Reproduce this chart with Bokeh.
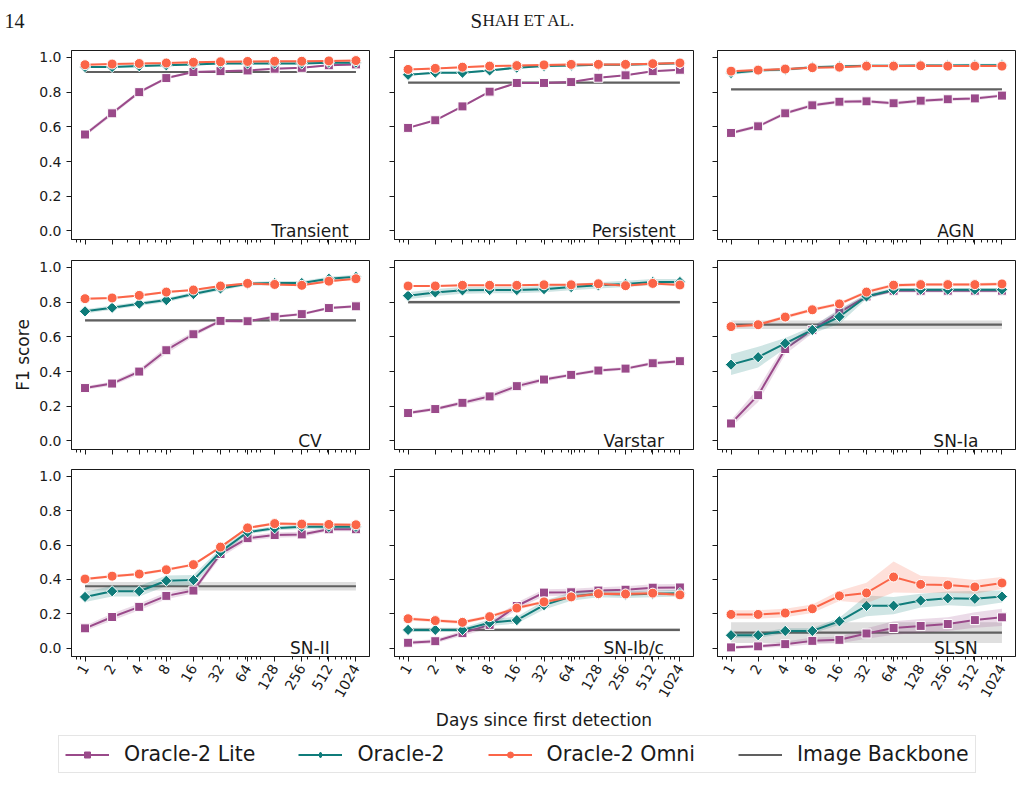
import math

from bokeh.embed import file_html
from bokeh.layouts import column, row
from bokeh.models import FixedTicker, Label, Legend, LegendItem, Range1d
from bokeh.plotting import figure
from bokeh.resources import INLINE

# ---------------------------------------------------------------- data
DAYS = [1, 2, 4, 8, 16, 32, 64, 128, 256, 512, 1024]
CLASSES = ["Transient", "Persistent", "AGN",
           "CV", "Varstar", "SN-Ia",
           "SN-II", "SN-Ib/c", "SLSN"]

# mean F1 score per class (rows follow CLASSES, columns follow DAYS)
LITE_F1 = [
    [0.556, 0.678, 0.800, 0.881, 0.916, 0.921, 0.925, 0.935, 0.940, 0.955, 0.960],
    [0.594, 0.638, 0.718, 0.803, 0.853, 0.853, 0.858, 0.883, 0.897, 0.921, 0.929],
    [0.565, 0.603, 0.678, 0.724, 0.745, 0.747, 0.736, 0.751, 0.759, 0.764, 0.780],
    [0.305, 0.331, 0.400, 0.523, 0.615, 0.692, 0.690, 0.716, 0.731, 0.766, 0.776],
    [0.161, 0.184, 0.220, 0.257, 0.316, 0.354, 0.381, 0.406, 0.417, 0.448, 0.460],
    [0.101, 0.264, 0.530, 0.640, 0.741, 0.833, 0.866, 0.866, 0.866, 0.866, 0.866],
    [0.115, 0.181, 0.240, 0.304, 0.335, 0.548, 0.640, 0.658, 0.662, 0.692, 0.692],
    [0.031, 0.040, 0.087, 0.135, 0.245, 0.323, 0.325, 0.335, 0.340, 0.352, 0.353],
    [0.004, 0.010, 0.023, 0.042, 0.048, 0.085, 0.117, 0.129, 0.140, 0.163, 0.179],
]
ORACLE_F1 = [
    [0.945, 0.945, 0.950, 0.955, 0.960, 0.965, 0.965, 0.965, 0.965, 0.970, 0.970],
    [0.900, 0.912, 0.912, 0.925, 0.941, 0.950, 0.953, 0.958, 0.958, 0.962, 0.966],
    [0.910, 0.925, 0.930, 0.944, 0.948, 0.952, 0.952, 0.954, 0.954, 0.955, 0.955],
    [0.747, 0.768, 0.791, 0.812, 0.847, 0.879, 0.906, 0.910, 0.910, 0.935, 0.946],
    [0.837, 0.856, 0.868, 0.870, 0.870, 0.875, 0.887, 0.897, 0.905, 0.916, 0.916],
    [0.440, 0.483, 0.563, 0.640, 0.716, 0.833, 0.871, 0.872, 0.872, 0.872, 0.872],
    [0.298, 0.331, 0.331, 0.392, 0.396, 0.561, 0.675, 0.698, 0.706, 0.706, 0.706],
    [0.106, 0.106, 0.106, 0.148, 0.163, 0.250, 0.300, 0.316, 0.312, 0.316, 0.320],
    [0.075, 0.075, 0.100, 0.100, 0.156, 0.246, 0.247, 0.277, 0.290, 0.287, 0.300],
]
OMNI_F1 = [
    [0.958, 0.962, 0.965, 0.968, 0.972, 0.975, 0.977, 0.978, 0.978, 0.980, 0.982],
    [0.931, 0.937, 0.944, 0.950, 0.953, 0.957, 0.960, 0.960, 0.960, 0.964, 0.968],
    [0.921, 0.927, 0.933, 0.941, 0.944, 0.950, 0.950, 0.952, 0.950, 0.950, 0.950],
    [0.820, 0.824, 0.839, 0.858, 0.870, 0.893, 0.908, 0.902, 0.897, 0.921, 0.935],
    [0.893, 0.893, 0.897, 0.897, 0.897, 0.900, 0.900, 0.906, 0.895, 0.908, 0.899],
    [0.659, 0.670, 0.714, 0.756, 0.790, 0.858, 0.898, 0.901, 0.901, 0.901, 0.905],
    [0.402, 0.419, 0.431, 0.456, 0.486, 0.588, 0.700, 0.725, 0.722, 0.720, 0.718],
    [0.171, 0.160, 0.150, 0.183, 0.233, 0.269, 0.298, 0.317, 0.315, 0.320, 0.310],
    [0.196, 0.196, 0.204, 0.229, 0.304, 0.321, 0.414, 0.371, 0.367, 0.356, 0.379],
]

# half-width of the confidence band around each mean
LITE_ERR = [
    [0.012, 0.012, 0.010, 0.008, 0.006, 0.005, 0.005, 0.005, 0.005, 0.005, 0.005],
    [0.006, 0.006, 0.006, 0.006, 0.005, 0.005, 0.005, 0.005, 0.005, 0.005, 0.005],
    [0.010, 0.010, 0.010, 0.010, 0.010, 0.010, 0.010, 0.010, 0.010, 0.010, 0.010],
    [0.010, 0.012, 0.015, 0.020, 0.015, 0.010, 0.008, 0.008, 0.008, 0.008, 0.008],
    [0.010, 0.010, 0.012, 0.015, 0.015, 0.012, 0.010, 0.010, 0.010, 0.010, 0.010],
    [0.020, 0.040, 0.030, 0.020, 0.020, 0.012, 0.010, 0.010, 0.010, 0.010, 0.010],
    [0.015, 0.020, 0.020, 0.020, 0.015, 0.020, 0.015, 0.015, 0.015, 0.012, 0.012],
    [0.012, 0.012, 0.015, 0.020, 0.020, 0.020, 0.020, 0.020, 0.020, 0.020, 0.020],
    [0.010, 0.010, 0.015, 0.020, 0.020, 0.030, 0.040, 0.040, 0.040, 0.045, 0.050],
]
ORACLE_ERR = [
    [0.006, 0.006, 0.006, 0.006, 0.006, 0.006, 0.006, 0.006, 0.006, 0.006, 0.006],
    [0.006, 0.006, 0.006, 0.006, 0.006, 0.006, 0.006, 0.006, 0.006, 0.006, 0.006],
    [0.010, 0.010, 0.008, 0.008, 0.008, 0.008, 0.008, 0.008, 0.008, 0.008, 0.008],
    [0.012, 0.012, 0.012, 0.012, 0.012, 0.012, 0.010, 0.012, 0.012, 0.012, 0.012],
    [0.020, 0.020, 0.020, 0.018, 0.018, 0.018, 0.018, 0.018, 0.018, 0.018, 0.018],
    [0.060, 0.060, 0.030, 0.020, 0.040, 0.015, 0.010, 0.010, 0.010, 0.010, 0.010],
    [0.030, 0.030, 0.030, 0.030, 0.030, 0.020, 0.012, 0.012, 0.012, 0.012, 0.012],
    [0.012, 0.012, 0.012, 0.020, 0.020, 0.025, 0.025, 0.020, 0.020, 0.020, 0.020],
    [0.015, 0.015, 0.015, 0.015, 0.020, 0.060, 0.050, 0.040, 0.040, 0.045, 0.035],
]
OMNI_ERR = [
    [0.005, 0.005, 0.005, 0.005, 0.005, 0.005, 0.005, 0.005, 0.005, 0.005, 0.005],
    [0.005, 0.005, 0.005, 0.005, 0.005, 0.005, 0.005, 0.005, 0.005, 0.005, 0.005],
    [0.005, 0.005, 0.005, 0.005, 0.005, 0.005, 0.005, 0.005, 0.005, 0.005, 0.005],
    [0.006, 0.006, 0.006, 0.006, 0.006, 0.006, 0.006, 0.006, 0.006, 0.006, 0.006],
    [0.005, 0.005, 0.005, 0.005, 0.005, 0.005, 0.005, 0.005, 0.005, 0.005, 0.005],
    [0.010, 0.010, 0.010, 0.010, 0.010, 0.010, 0.010, 0.010, 0.010, 0.010, 0.010],
    [0.008, 0.008, 0.008, 0.008, 0.008, 0.008, 0.008, 0.008, 0.008, 0.008, 0.008],
    [0.010, 0.010, 0.010, 0.010, 0.010, 0.010, 0.010, 0.010, 0.010, 0.010, 0.010],
    [0.025, 0.025, 0.025, 0.025, 0.030, 0.060, 0.090, 0.050, 0.045, 0.040, 0.035],
]

# image-only baseline: one score per class, constant in time
BACKBONE_F1 = [0.916, 0.855, 0.816, 0.695, 0.800, 0.670, 0.360, 0.106, 0.090]
BACKBONE_ERR = [0.004, 0.003, 0.004, 0.006, 0.010, 0.025, 0.025, 0.010, 0.060]

Y_TICKS = [0.0, 0.2, 0.4, 0.6, 0.8, 1.0]

# ---------------------------------------------------------------- style
FONT = "DejaVu Sans"
INK = "#1a1a1a"
C_LITE = "#9a4a8a"
C_ORACLE = "#0f7c7a"
C_OMNI = "#fb6548"
C_BACK = "#606060"

# name, means, band half-widths, colour, marker, marker size, marker angle,
# marker used for the legend key
SERIES = [
    ("Oracle-2 Lite", LITE_F1, LITE_ERR, C_LITE, "square", 9, 0.0, "square"),
    ("Oracle-2", ORACLE_F1, ORACLE_ERR, C_ORACLE, "square", 8, math.pi / 4, "diamond"),
    ("Oracle-2 Omni", OMNI_F1, OMNI_ERR, C_OMNI, "circle", 10, 0.0, "circle"),
]

X0, X1 = 2 ** -0.5, 2 ** 10.5
Y0, Y1 = -0.049, 1.04

# figure geometry per column / row
COL_W = [381, 323, 319]
COL_ML = [71, 13, 13]
COL_MR = [12, 11, 8]
HEAD_H = 40
ROW_H = [209, 210, 274]
ROW_MT = [10, 11, 10]
ROW_MB = [10, 10, 75]
FOOT_H = 69

MINOR_X = [0.8, 0.9, 3, 5, 6, 7, 9, 20, 30, 40, 50, 60, 70, 80, 90,
           200, 300, 400, 500, 600, 700, 800, 900]


def style_axes(p, r, c):
    for ax in (p.xaxis[0], p.yaxis[0]):
        ax.axis_line_color = INK
        ax.major_tick_line_color = INK
        ax.minor_tick_line_color = INK
        ax.major_tick_in = 0
        ax.major_tick_out = 5
        ax.minor_tick_in = 0
        ax.minor_tick_out = 3
        ax.major_label_text_font = FONT
        ax.major_label_text_font_size = "14px"
        ax.major_label_text_color = INK
        ax.axis_label_text_font = FONT
        ax.axis_label_text_font_size = "17px"
        ax.axis_label_text_font_style = "normal"
        ax.axis_label_text_color = INK

    xa = p.xaxis[0]
    xa.ticker = FixedTicker(ticks=DAYS, minor_ticks=MINOR_X)
    if r == 2:
        xa.major_label_overrides = {d: str(d) for d in DAYS}
        xa.major_label_orientation = math.pi / 3
        xa.major_label_standoff = 4
        if c == 1:
            xa.axis_label = "Days since first detection"
            xa.axis_label_standoff = 6
    else:
        # shared x: tick marks only
        xa.major_label_overrides = {d: "" for d in DAYS}
        xa.major_label_standoff = 0

    ya = p.yaxis[0]
    ya.ticker = FixedTicker(ticks=Y_TICKS, minor_ticks=[])
    if c == 0:
        ya.major_label_overrides = {t: f"{t:.1f}" for t in Y_TICKS}
        ya.major_label_standoff = 5
        if r == 1:
            ya.axis_label = "F1 score"
            ya.axis_label_standoff = 3
    else:
        # shared y: tick marks only
        ya.major_label_overrides = {t: "" for t in Y_TICKS}
        ya.major_label_standoff = 0


def make_panel(i):
    r, c = divmod(i, 3)
    p = figure(width=COL_W[c], height=ROW_H[r],
               x_axis_type="log",
               x_range=Range1d(X0, X1), y_range=Range1d(Y0, Y1),
               min_border_left=COL_ML[c], min_border_right=COL_MR[c],
               min_border_top=ROW_MT[r], min_border_bottom=ROW_MB[r],
               output_backend="svg", toolbar_location=None)
    p.grid.visible = False
    p.outline_line_color = INK
    p.outline_line_alpha = 1.0
    p.background_fill_color = "white"
    p.border_fill_color = "white"
    style_axes(p, r, c)

    # image backbone: constant level with its band
    b = BACKBONE_F1[i]
    e = BACKBONE_ERR[i]
    p.varea(x=[DAYS[0], DAYS[-1]], y1=[b - e, b - e], y2=[b + e, b + e],
            fill_color=C_BACK, fill_alpha=0.2)
    p.line(x=[DAYS[0], DAYS[-1]], y=[b, b], line_color=C_BACK, line_width=2.2)

    for _, f1, err, color, marker, size, angle, _ in SERIES:
        ys = f1[i]
        es = err[i]
        p.varea(x=DAYS, y1=[y - d for y, d in zip(ys, es)],
                y2=[y + d for y, d in zip(ys, es)],
                fill_color=color, fill_alpha=0.2)
        p.line(x=DAYS, y=ys, line_color=color, line_width=2)
        p.scatter(x=DAYS, y=ys, marker=marker, size=size, angle=angle,
                  fill_color=color, line_color="white", line_width=1)

    # class name, centred at 80% of the panel width near its bottom
    lx = 2 ** (math.log2(X0) + 0.8 * (math.log2(X1) - math.log2(X0)))
    ly = Y0 + 0.045 * (Y1 - Y0)
    p.add_layout(Label(x=lx, y=ly, text=CLASSES[i], text_align="center",
                       text_baseline="alphabetic", text_font=FONT,
                       text_font_size="17px", text_color=INK))
    return p


panels = [make_panel(i) for i in range(9)]
grid_rows = [row(panels[3 * k:3 * k + 3]) for k in range(3)]

# ---------------------------------------------------------------- running head
head = figure(width=1023, height=HEAD_H, x_range=Range1d(0, 1023), y_range=Range1d(0, HEAD_H),
              x_axis_location=None, y_axis_location=None, min_border=0,
              output_backend="svg", toolbar_location=None)
head.grid.visible = False
head.outline_line_color = None
SERIF = "Liberation Serif"
BASE = HEAD_H - 20
head.add_layout(Label(x=4, y=BASE, text="14", text_font=SERIF, text_font_size="20px",
                      text_color=INK, text_baseline="alphabetic"))
head.add_layout(Label(x=470, y=BASE, text="S", text_font=SERIF, text_font_size="21px",
                      text_color=INK, text_baseline="alphabetic"))
head.add_layout(Label(x=482, y=BASE, text="HAH ET AL.", text_font=SERIF, text_font_size="17px",
                      text_color=INK, text_baseline="alphabetic"))

# ---------------------------------------------------------------- legend strip
foot = figure(width=1023, height=FOOT_H, x_range=Range1d(0, 1), y_range=Range1d(0, 1),
              x_axis_location=None, y_axis_location=None, min_border=0,
              output_backend="svg", toolbar_location=None)
foot.grid.visible = False
foot.outline_line_color = None

# legend proxies: a single NaN point each, so nothing shows inside the strip
NAN = [float("nan")]
items = []
for name, _, _, color, _, _, _, key_marker in SERIES:
    lr = foot.line(x=NAN, y=NAN, line_color=color, line_width=2)
    sr = foot.scatter(x=NAN, y=NAN, marker=key_marker,
                      fill_color=color, line_color=color)
    items.append(LegendItem(label=name, renderers=[lr, sr]))
br = foot.line(x=NAN, y=NAN, line_color=C_BACK, line_width=2.2)
items.append(LegendItem(label="Image Backbone", renderers=[br]))

legend = Legend(items=items, orientation="horizontal", location=(58, 29),
                label_text_font=FONT, label_text_font_size="20.5px",
                label_text_color=INK, glyph_width=44, glyph_height=15,
                label_height=24, label_standoff=15, spacing=43,
                padding=6, margin=0,
                border_line_color="#cccccc", border_line_width=1,
                background_fill_color="white", background_fill_alpha=1.0)
foot.add_layout(legend)

layout = column(head, *grid_rows, foot, spacing=0)

with open("out.html", "w") as fh:
    fh.write(file_html(layout, INLINE))
